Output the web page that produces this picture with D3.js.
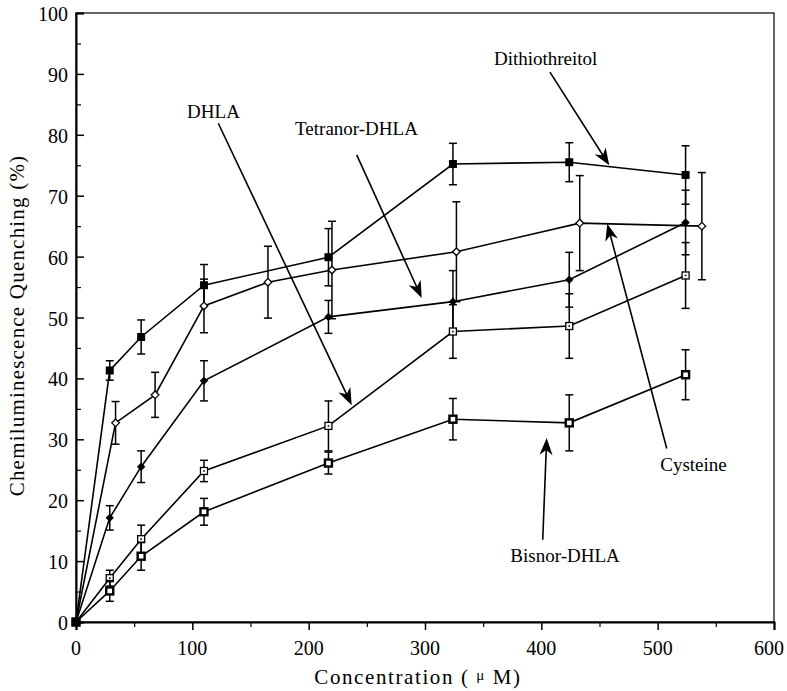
<!DOCTYPE html>
<html>
<head>
<meta charset="utf-8">
<script src="https://cdn.jsdelivr.net/npm/d3@7"></script>
<style>
  html, body { margin: 0; padding: 0; background: #fff; }
  svg { display: block; }
  text { font-family: "Liberation Serif", "Times New Roman", serif; fill: #000; }
</style>
</head>
<body>
<svg id="chart" width="787" height="691"></svg>
<script>
// ---------- data ----------
const xTicks = [0, 100, 200, 300, 400, 500, 600];
const yTicks = [0, 10, 20, 30, 40, 50, 60, 70, 80, 90, 100];

const dttConc   = [0, 29, 56, 110, 217, 324, 424, 524];
const dttValues = [0, 41.3, 46.8, 55.3, 59.9, 75.2, 75.5, 73.4];
const dttErrors = [0, 1.6, 2.8, 3.4, 4.7, 3.4, 3.2, 4.8];

const cysConc   = [0, 34, 68, 110, 165, 220, 327, 433, 538];
const cysValues = [0, 32.7, 37.3, 51.9, 55.8, 57.8, 60.8, 65.5, 65.0];
const cysErrors = [0, 3.5, 3.7, 4.4, 5.9, 8.0, 8.2, 7.8, 8.8];

const tetConc   = [0, 29, 56, 110, 217, 324, 424, 524];
const tetValues = [0, 17.1, 25.5, 39.6, 50.1, 52.6, 56.2, 65.6];
const tetErrors = [0, 2.0, 2.6, 3.3, 2.7, 5.1, 4.5, 5.3];

const dhlaConc   = [0, 29, 56, 110, 217, 324, 424, 524];
const dhlaValues = [0, 7.2, 13.6, 24.8, 32.2, 47.7, 48.6, 56.9];
const dhlaErrors = [0, 1.3, 2.3, 1.75, 4.1, 4.4, 5.3, 5.4];

const bisConc   = [0, 29, 56, 110, 217, 324, 424, 524];
const bisValues = [0, 5.1, 10.8, 18.1, 26.1, 33.3, 32.7, 40.6];
const bisErrors = [0, 1.7, 2.3, 2.2, 1.8, 3.4, 4.6, 4.1];

// annotation labels (data units): name, label x, label baseline y, arrow start x,y, arrow tip x,y
const labelNames = ["Dithiothreitol", "DHLA", "Tetranor-DHLA", "Cysteine", "Bisnor-DHLA"];
const labelX     = [403.7, 118.2, 241.1, 530.8, 420.4];
const labelY     = [91.5, 82.8, 80.0, 24.8, 9.85];
const arrowFromX = [407.4, 122.3, 241.3, 507.8, 401.2];
const arrowFromY = [90.3, 81.9, 76.7, 28.5, 13.5];
const arrowToX   = [458.4, 237.0, 297.2, 456.7, 404.6];
const arrowToY   = [75.0, 35.6, 53.2, 65.4, 30.2];

// ---------- chart ----------
const svg = d3.select("#chart");
const x = d3.scaleLinear().domain([0, 600]).range([76, 774]);
const y = d3.scaleLinear().domain([0, 100]).range([622, 13]);

// frame
svg.append("rect")
  .attr("x", x(0)).attr("y", y(100))
  .attr("width", x(600) - x(0)).attr("height", y(0) - y(100))
  .attr("fill", "none").attr("stroke", "#000").attr("stroke-width", 1.2);

// y axis (ticks inward)
const yAxis = d3.axisRight(y).tickValues(yTicks).tickSize(8).tickFormat("");
const gy = svg.append("g").attr("transform", `translate(${x(0)},0)`).call(yAxis);
gy.select(".domain").attr("stroke-width", 2);
gy.selectAll(".tick line").attr("stroke-width", 1.5);
const yMinor = d3.axisRight(y).tickValues(d3.range(5, 100, 10)).tickSize(5).tickFormat("");
const gy2 = svg.append("g").attr("transform", `translate(${x(0)},0)`).call(yMinor);
gy2.select(".domain").remove();
gy2.selectAll(".tick line").attr("stroke-width", 1.2);
svg.append("g").selectAll("text").data(yTicks).join("text")
  .attr("x", 68).attr("y", d => y(d) + 1)
  .attr("text-anchor", "end").attr("dominant-baseline", "central")
  .attr("font-size", 20).text(d => d);

// x axis (ticks outward)
const xAxis = d3.axisBottom(x).tickValues(xTicks).tickSize(8).tickFormat("");
const gx = svg.append("g").attr("transform", `translate(0,${y(0)})`).call(xAxis);
gx.select(".domain").attr("stroke-width", 2);
gx.selectAll(".tick line").attr("stroke-width", 1.5);
const xMinor = d3.axisBottom(x).tickValues(d3.range(50, 600, 100)).tickSize(5).tickFormat("");
const gx2 = svg.append("g").attr("transform", `translate(0,${y(0)})`).call(xMinor);
gx2.select(".domain").remove();
gx2.selectAll(".tick line").attr("stroke-width", 1.2);
svg.append("g").selectAll("text").data(xTicks).join("text")
  .attr("x", d => Math.min(x(d), 769)).attr("y", 655)
  .attr("text-anchor", "middle").attr("font-size", 20).text(d => d);

// axis titles
const xt = svg.append("text").attr("x", 418).attr("y", 684)
  .attr("text-anchor", "middle").attr("font-size", 21).attr("letter-spacing", 1.6);
xt.append("tspan").text("Concentration ( ");
xt.append("tspan").attr("font-size", 15).attr("dy", -4).text("μ");
xt.append("tspan").attr("dy", 4).text(" M)");

svg.append("text")
  .attr("transform", `translate(24,${(y(0) + y(100)) / 2 + 8}) rotate(-90)`)
  .attr("text-anchor", "middle").attr("font-size", 21).attr("letter-spacing", 1.2)
  .text("Chemiluminescence Quenching (%)");

// series
const series = [
  { name: "Dithiothreitol", conc: dttConc, vals: dttValues, errs: dttErrors, marker: "fsquare" },
  { name: "Cysteine", conc: cysConc, vals: cysValues, errs: cysErrors, marker: "odiamond" },
  { name: "Tetranor-DHLA", conc: tetConc, vals: tetValues, errs: tetErrors, marker: "fdiamond" },
  { name: "DHLA", conc: dhlaConc, vals: dhlaValues, errs: dhlaErrors, marker: "dsquare" },
  { name: "Bisnor-DHLA", conc: bisConc, vals: bisValues, errs: bisErrors, marker: "bsquare" }
];

const line = d3.line().x(d => x(d[0])).y(d => y(d[1]));

series.forEach(s => {
  const pts = s.conc.map((c, i) => [c, s.vals[i], s.errs[i]]);
  const g = svg.append("g");
  g.append("path").datum(pts).attr("d", line)
    .attr("fill", "none").attr("stroke", "#000").attr("stroke-width", 1.6);
  // error bars
  const eb = g.selectAll(".eb").data(pts.filter(p => p[2] > 0)).join("g");
  eb.append("line")
    .attr("x1", d => x(d[0])).attr("x2", d => x(d[0]))
    .attr("y1", d => y(d[1] + d[2])).attr("y2", d => y(d[1] - d[2]))
    .attr("stroke", "#000").attr("stroke-width", 1.5);
  [1, -1].forEach(sg => {
    eb.append("line")
      .attr("x1", d => x(d[0]) - 4).attr("x2", d => x(d[0]) + 4)
      .attr("y1", d => y(d[1] + sg * d[2])).attr("y2", d => y(d[1] + sg * d[2]))
      .attr("stroke", "#000").attr("stroke-width", 1.5);
  });
  // markers
  const m = g.selectAll(".m").data(pts).join("g")
    .attr("transform", d => `translate(${x(d[0])},${y(d[1])})`);
  if (s.marker === "fsquare") {
    m.append("rect").attr("x", -4).attr("y", -4).attr("width", 8).attr("height", 8).attr("fill", "#000");
  } else if (s.marker === "odiamond") {
    m.append("path").attr("d", "M0,-3.8L3.8,0L0,3.8L-3.8,0Z")
      .attr("fill", "#fff").attr("stroke", "#000").attr("stroke-width", 1.3);
  } else if (s.marker === "fdiamond") {
    m.append("path").attr("d", "M0,-4.2L4.2,0L0,4.2L-4.2,0Z").attr("fill", "#000");
  } else if (s.marker === "dsquare") {
    m.append("rect").attr("x", -3.5).attr("y", -3.5).attr("width", 7).attr("height", 7)
      .attr("fill", "#fff").attr("stroke", "#000").attr("stroke-width", 1.3);
    m.append("rect").attr("x", -0.8).attr("y", -0.8).attr("width", 1.6).attr("height", 1.6).attr("fill", "#000");
  } else {
    m.append("rect").attr("x", -3.5).attr("y", -3.5).attr("width", 7).attr("height", 7)
      .attr("fill", "#fff").attr("stroke", "#000").attr("stroke-width", 2.4);
  }
});

// origin marker
svg.append("rect").attr("x", x(0) - 4).attr("y", y(0) - 4).attr("width", 8).attr("height", 8).attr("fill", "#000");

// annotations
labelNames.forEach((name, i) => {
  svg.append("text").attr("x", x(labelX[i])).attr("y", y(labelY[i]))
    .attr("text-anchor", "middle").attr("font-size", 19).text(name);
  const x1 = x(arrowFromX[i]), y1 = y(arrowFromY[i]);
  const x2 = x(arrowToX[i]), y2 = y(arrowToY[i]);
  const ang = Math.atan2(y2 - y1, x2 - x1) * 180 / Math.PI;
  const len = Math.hypot(x2 - x1, y2 - y1);
  const ga = svg.append("g").attr("transform", `translate(${x1},${y1}) rotate(${ang})`);
  ga.append("line").attr("x1", 0).attr("y1", 0).attr("x2", len - 8).attr("y2", 0)
    .attr("stroke", "#000").attr("stroke-width", 1.6);
  ga.append("path")
    .attr("d", `M${len},0L${len - 17},-6.5L${len - 12},0L${len - 17},6.5Z`)
    .attr("fill", "#000");
});
</script>
</body>
</html>
